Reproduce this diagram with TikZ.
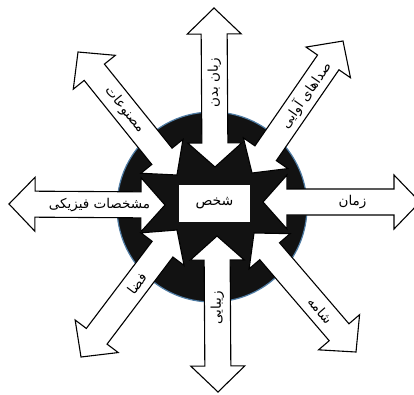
\documentclass[tikz,border=0pt]{standalone}
\usepackage{fontspec}
\newfontfamily\arabicfont[Script=Arabic]{DejaVu Sans}
\TeXXeTstate=1
\usetikzlibrary{calc}

% arrow sizes (1pt = 1px of the picture)
\newcommand{\headIn}{24pt}
\newcommand{\headOut}{26pt}
\newcommand{\headHalf}{27pt}
\newcommand{\shaftHalf}{13pt}

% double block arrow from inner tip #1 to outer tip #2
\newcommand{\dblarrow}[2]{%
  \coordinate (#1b) at ($(#1)!\headIn!(#2)$);
  \coordinate (#2b) at ($(#2)!\headOut!(#1)$);
  \draw[blockarrow] (#1)
    -- ($(#1b)!\headHalf!90:(#2)$) -- ($(#1b)!\shaftHalf!90:(#2)$)
    -- ($(#2b)!\shaftHalf!-90:(#1)$) -- ($(#2b)!\headHalf!-90:(#1)$)
    -- (#2)
    -- ($(#2b)!\headHalf!90:(#1)$) -- ($(#2b)!\shaftHalf!90:(#1)$)
    -- ($(#1b)!\shaftHalf!-90:(#2)$) -- ($(#1b)!\headHalf!-90:(#2)$)
    -- cycle;
}

\tikzset{
  blockarrow/.style={draw=black, fill=white, line width=1.1pt, line join=miter},
  lbl/.style={font=\arabicfont\fontsize{13.5}{15}\selectfont, inner sep=0pt},
}

\begin{document}
\begin{tikzpicture}[x=1pt, y=-1pt]
\useasboundingbox (0,0) rectangle (414,394);
% dark disc behind everything
\node[circle, minimum size=190pt, inner sep=0pt, fill=black!93,
  draw={rgb,255:red,80;green,125;blue,165}, line width=1.2pt] (hub) at (212,207) {};

% tips of the arrows: inner (In) and outer (Out)
\coordinate (upIn) at (215,167);      \coordinate (upOut) at (214,8);
\coordinate (downIn) at (217,236);    \coordinate (downOut) at (218,392);
\coordinate (leftIn) at (165,205);    \coordinate (leftOut) at (9,204);
\coordinate (rightIn) at (263,202);   \coordinate (rightOut) at (420,202);
\coordinate (ulIn) at (177,175);      \coordinate (ulOut) at (78,52);
\coordinate (urIn) at (252,173);      \coordinate (urOut) at (343,41);
\coordinate (dlIn) at (177,230);      \coordinate (dlOut) at (81,357);
\coordinate (drIn) at (254,233);      \coordinate (drOut) at (356,352);

\dblarrow{upIn}{upOut}
\dblarrow{downIn}{downOut}
\dblarrow{leftIn}{leftOut}
\dblarrow{rightIn}{rightOut}
\dblarrow{ulIn}{ulOut}
\dblarrow{urIn}{urOut}
\dblarrow{dlIn}{dlOut}
\dblarrow{drIn}{drOut}

% labels
\node[lbl, rotate=90] (lblUp) at ($(upIn)!0.53!(upOut)$) {\beginR زبان بدن\endR};
\node[lbl, rotate=90] (lblDown) at ($(downIn)!0.46!(downOut)$) {\beginR زیبایی\endR};
\node[lbl] (lblLeft) at ($(leftIn)!0.42!(leftOut)$) {\beginR مشخصات فیزیکی\endR};
\node[lbl] (lblRight) at ($(rightIn)!0.57!(rightOut)$) {\beginR زمان\endR};
\node[lbl, rotate=-51] (lblUl) at ($(ulIn)!0.53!(ulOut)$) {\beginR مصنوعات\endR};
\node[lbl, rotate=55] (lblUr) at ($(urIn)!0.59!(urOut)$) {\beginR صداهای آوایی\endR};
\node[lbl, rotate=53] (lblDl) at ($(dlIn)!0.42!(dlOut)$) {\beginR فضا\endR};
\node[lbl, rotate=-49] (lblDr) at ($(drIn)!0.65!(drOut)$) {\beginR شامه\endR};

% centre box
\node[fill=white, minimum width=71pt, minimum height=37pt, inner sep=0pt,
  font=\arabicfont\fontsize{14}{16}\selectfont] (person) at (214.5,203.5) {\beginR شخص\endR};
\end{tikzpicture}
\end{document}
